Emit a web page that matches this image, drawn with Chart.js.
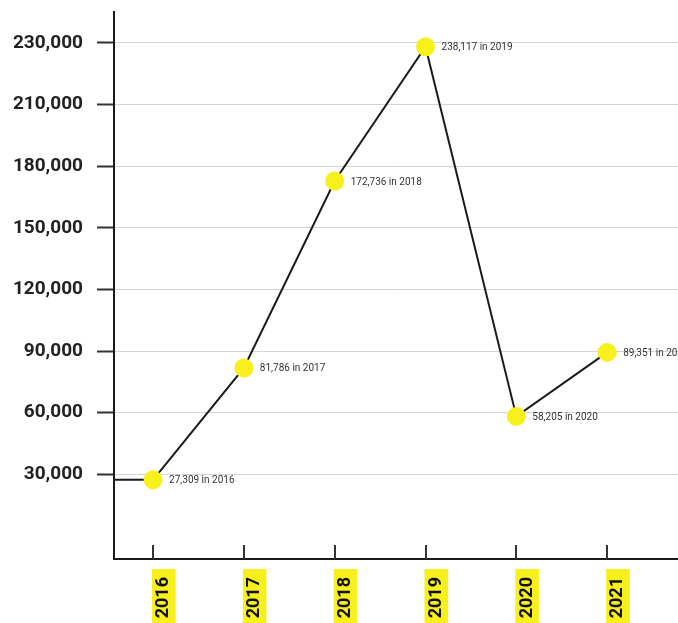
<!DOCTYPE html>
<html>
<head>
<meta charset="utf-8">
<title>Yearly totals 2016–2021</title>
<script src="https://cdn.jsdelivr.net/npm/chart.js@4/dist/chart.umd.min.js"></script>
<style>
  html, body { margin: 0; padding: 0; background: #ffffff; }
  canvas { display: block; }
</style>
</head>
<body>
<canvas id="grafico" width="678" height="623"></canvas>
<script>
// years on the x axis and the total for each year
const anos = [2016, 2017, 2018, 2019, 2020, 2021];
const totais = [27309, 81786, 172736, 238117, 58205, 89351];

// y axis ticks and the text printed beside them
const valoresTicks = [30000, 60000, 90000, 120000, 150000, 180000, 210000, 240000];
const textosTicks = ['30,000', '60,000', '90,000', '120,000', '150,000', '180,000', '210,000', '230,000'];

const amarelo = '#f8f01c';
const tinta = '#1b1b1b';

// short line from the y axis to the first point, same height as that point
const linhaInicial = {
  id: 'linhaInicial',
  beforeDatasetsDraw(chart) {
    const { ctx, chartArea, scales } = chart;
    const y = scales.y.getPixelForValue(totais[0]);
    const x = scales.x.getPixelForValue(anos[0]);
    ctx.save();
    ctx.strokeStyle = tinta;
    ctx.lineWidth = 2;
    ctx.beginPath();
    ctx.moveTo(chartArea.left, y);
    ctx.lineTo(x, y);
    ctx.stroke();
    ctx.restore();
  }
};

// x ticks point up into the plot
const ticksInternos = {
  id: 'ticksInternos',
  afterDraw(chart) {
    const { ctx, chartArea, scales } = chart;
    ctx.save();
    ctx.strokeStyle = '#333333';
    ctx.lineWidth = 2;
    anos.forEach(ano => {
      const x = Math.round(scales.x.getPixelForValue(ano));
      ctx.beginPath();
      ctx.moveTo(x, chartArea.bottom);
      ctx.lineTo(x, chartArea.bottom - 14);
      ctx.stroke();
    });
    ctx.restore();
  }
};

// "27,309 in 2016" next to each point
const rotulos = {
  id: 'rotulos',
  afterDatasetsDraw(chart) {
    const { ctx } = chart;
    const meta = chart.getDatasetMeta(0);
    ctx.save();
    ctx.font = '10px Roboto, "Liberation Sans", sans-serif';
    ctx.fillStyle = '#333333';
    ctx.textAlign = 'left';
    ctx.textBaseline = 'middle';
    meta.data.forEach((pt, i) => {
      const texto = totais[i].toLocaleString('en-US') + ' in ' + anos[i];
      ctx.fillText(texto, pt.x + 16, pt.y + 1);
    });
    ctx.restore();
  }
};

new Chart(document.getElementById('grafico'), {
  type: 'line',
  data: {
    datasets: [{
      data: anos.map((ano, i) => ({ x: ano, y: totais[i] })),
      borderColor: tinta,
      borderWidth: 2,
      tension: 0,
      pointRadius: 9.5,
      pointHoverRadius: 9.5,
      pointBackgroundColor: amarelo,
      pointBorderWidth: 0
    }]
  },
  options: {
    responsive: false,
    animation: false,
    layout: { autoPadding: false, padding: { top: 12, right: 0, bottom: 0, left: 0 } },
    plugins: {
      legend: { display: false },
      tooltip: { enabled: false }
    },
    scales: {
      x: {
        type: 'linear',
        min: 2015.57,
        max: 2021.78,
        afterBuildTicks: s => { s.ticks = anos.map(v => ({ value: v })); },
        afterFit: s => { s.height = 64; s.paddingLeft = 0; s.paddingRight = 0; },
        grid: { display: true, drawOnChartArea: false, drawTicks: false },
        border: { display: true, color: tinta, width: 2 },
        ticks: {
          autoSkip: false,
          minRotation: 90,
          maxRotation: 90,
          padding: 18,
          color: '#111111',
          font: { family: 'Roboto, "Liberation Sans", sans-serif', size: 18, weight: 'bold' },
          callback: v => String(v),
          showLabelBackdrop: true,
          backdropColor: amarelo,
          backdropPadding: { top: 1, bottom: 1, left: 6, right: 8 }
        }
      },
      y: {
        min: -11200,
        max: 255000,
        afterBuildTicks: s => { s.ticks = valoresTicks.map(v => ({ value: v })); },
        afterFit: s => { s.width = 114; s.paddingTop = 0; s.paddingBottom = 0; },
        grid: { color: '#d4d4d4', lineWidth: 1, tickLength: 17, tickColor: '#333333', tickWidth: 2 },
        border: { display: true, color: tinta, width: 2 },
        ticks: {
          padding: 14,
          color: '#222222',
          font: { family: 'Roboto, "Liberation Sans", sans-serif', size: 19, weight: 'bold' },
          callback: (v, i) => textosTicks[i]
        }
      }
    }
  },
  plugins: [linhaInicial, rotulos, ticksInternos]
});
</script>
</body>
</html>
